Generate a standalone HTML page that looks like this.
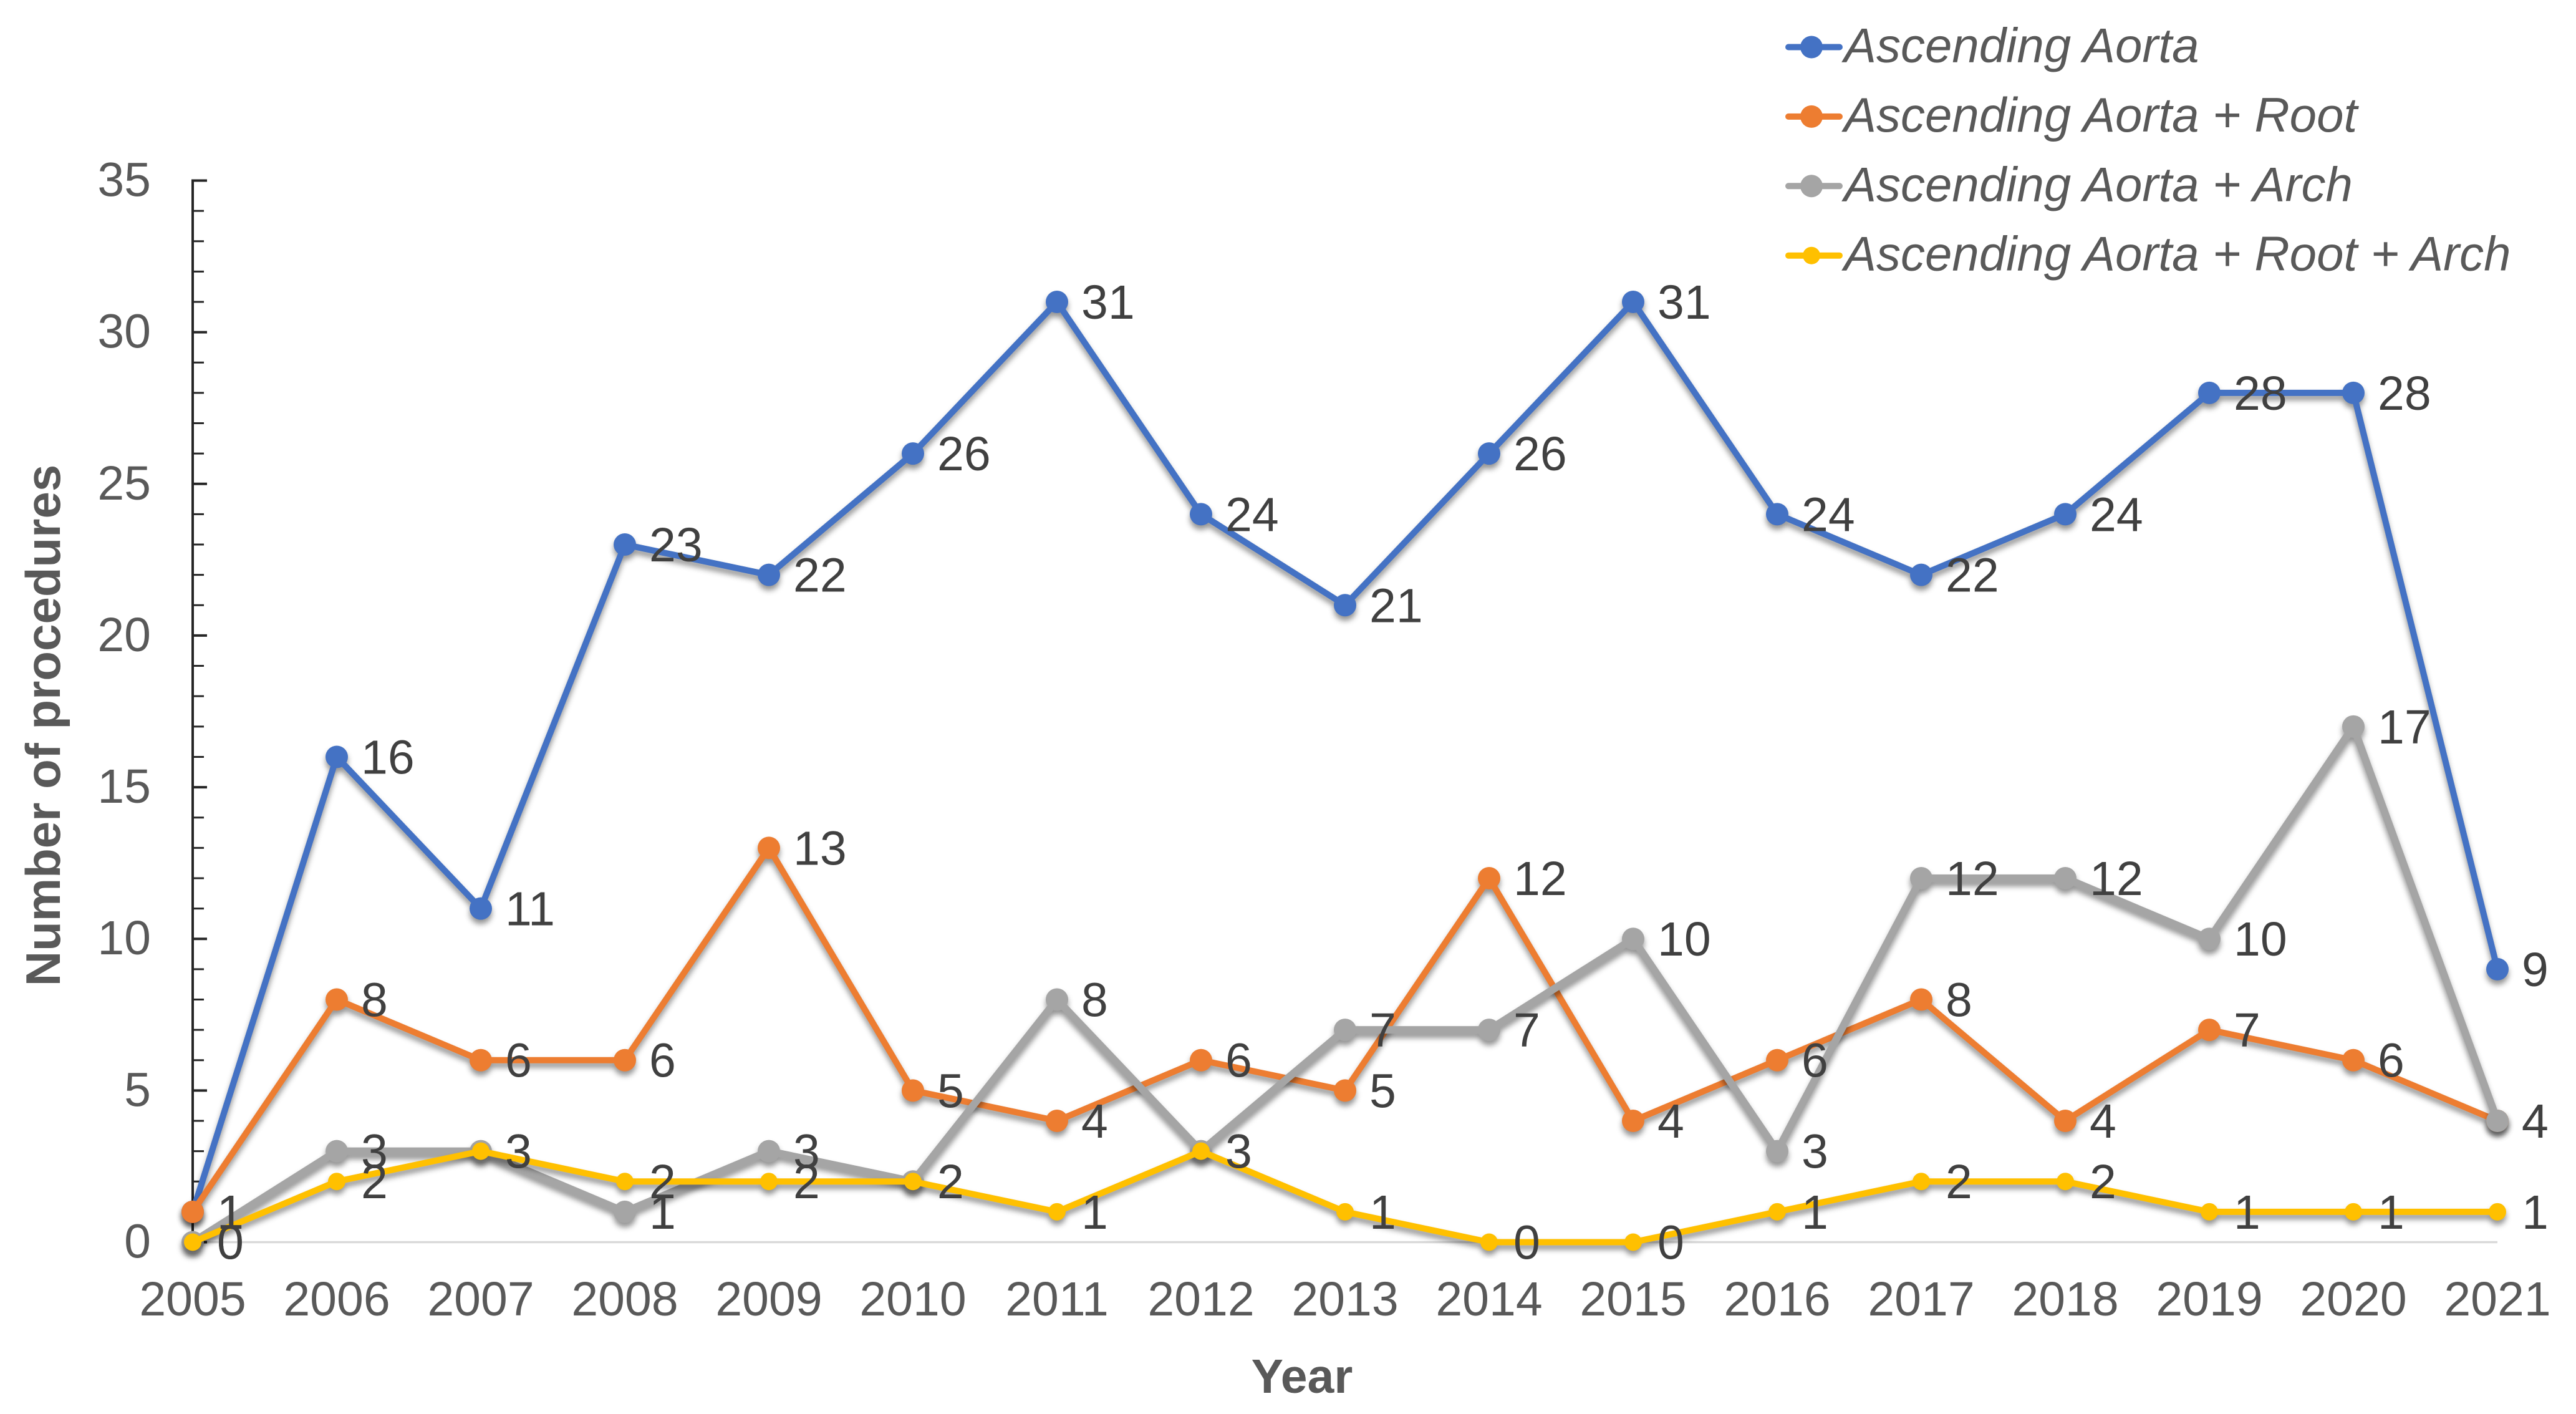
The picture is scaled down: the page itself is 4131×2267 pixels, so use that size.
<!DOCTYPE html>
<html lang="en">
<head>
<meta charset="utf-8">
<title>Number of procedures per year</title>
<style>
html,body{margin:0;padding:0;background:#fff;}
#chart{display:block;width:4131px;height:2267px;font-family:"Liberation Sans",Arial,sans-serif;}
</style>
</head>
<body>
<svg id="chart" xmlns="http://www.w3.org/2000/svg" width="4131" height="2267" viewBox="0 0 4131 2267">
  <defs>
    <filter id="shadow" x="-5%" y="-5%" width="110%" height="112%" color-interpolation-filters="sRGB">
      <feDropShadow dx="0" dy="7" stdDeviation="4.5" flood-color="#000" flood-opacity="0.42"/>
    </filter>
  </defs>
  <rect x="0" y="0" width="4131" height="2267" fill="#fff"/>
  <text transform="translate(96,1163) rotate(-90)" text-anchor="middle" font-size="78" font-weight="700" fill="#595959">Number of procedures</text>
  <text x="2088" y="2233" text-anchor="middle" font-size="77" font-weight="700" fill="#595959">Year</text>
</svg>
<script>
const years = ['2005','2006','2007','2008','2009','2010','2011','2012','2013','2014','2015','2016','2017','2018','2019','2020','2021'];
const ascendingAorta = [1,16,11,23,22,26,31,24,21,26,31,24,22,24,28,28,9];
const ascendingAortaRoot = [1,8,6,6,13,5,4,6,5,12,4,6,8,4,7,6,4];
const ascendingAortaArch = [0,3,3,1,3,2,8,3,7,7,10,3,12,12,10,17,4];
const ascendingAortaRootArch = [0,2,3,2,2,2,1,3,1,0,0,1,2,2,1,1,1];
const yTickLabels = [0,5,10,15,20,25,30,35];
const yMinorTicks = [0,1,2,3,4,5,6,7,8,9,10,11,12,13,14,15,16,17,18,19,20,21,22,23,24,25,26,27,28,29,30,31,32,33,34,35];
const seriesNames = ['Ascending Aorta','Ascending Aorta + Root','Ascending Aorta + Arch','Ascending Aorta + Root + Arch'];
const seriesValues = [ascendingAorta, ascendingAortaRoot, ascendingAortaArch, ascendingAortaRootArch];
const seriesColors = ['#4472c4','#ed7d31','#a5a5a5','#ffc000'];
const seriesWidths = [10,10,12,10];
const seriesRadii = [18,18,18,14];

const svg = document.getElementById('chart');
const NS = 'http://www.w3.org/2000/svg';
const X0 = 309, X1 = 4005, Y0 = 1991.5, Y1 = 289.5, YMAX = 35;
function xScale(i){ return X0 + i * (X1 - X0) / (years.length - 1); }
function yScale(v){ return Y0 - v * (Y0 - Y1) / YMAX; }
function make(tag, attrs, parent){
  const el = document.createElementNS(NS, tag);
  for (const k in attrs) el.setAttribute(k, attrs[k]);
  (parent || svg).appendChild(el);
  return el;
}

/* x axis baseline */
const xAxis = make('line', {x1:X0, x2:X1, y1:Y0, y2:Y0, stroke:'#d9d9d9', 'stroke-width':3.5});



/* y axis */
const yAxis = make('line', {x1:X0, x2:X0, y1:Y1-2, y2:Y0, stroke:'#262626', 'stroke-width':4});



yMinorTicks.forEach(function(v){
  const major = yTickLabels.indexOf(v) !== -1;
  const tick = make('line', {x1:X0, x2:X0 + (major ? 23 : 18), y1:yScale(v), y2:yScale(v), stroke:'#262626', 'stroke-width':major ? 4 : 3});
  
  
});

yTickLabels.forEach(function(v){
  const t = make('text', {x:242, y:yScale(v) + 25, 'text-anchor':'end', 'font-size':77, fill:'#595959'});
  t.textContent = String(v);
  
  
});

years.forEach(function(label, i){
  const t = make('text', {x:xScale(i), y:2109, 'text-anchor':'middle', 'font-size':77, fill:'#595959'});
  t.textContent = label;
  
  
});

/* series lines + markers */
seriesValues.forEach(function(values, s){
  const g = make('g', {filter:'url(#shadow)'});
  
  
  const pts = values.map(function(v, i){ return xScale(i) + ',' + yScale(v); }).join(' ');
  const line = make('polyline', {points:pts, fill:'none', stroke:seriesColors[s], 'stroke-width':seriesWidths[s], 'stroke-linejoin':'round', 'stroke-linecap':'round'}, g);
  
  
  values.forEach(function(v, i){
    const c = make('circle', {cx:xScale(i), cy:yScale(v), r:seriesRadii[s], fill:seriesColors[s]}, g);
    
    
  });
});

/* data labels */
seriesValues.forEach(function(values){
  values.forEach(function(v, i){
    const t = make('text', {x:xScale(i) + 39, y:yScale(v) + 27, 'font-size':77, fill:'#404040'});
    t.textContent = String(v);
    
    
  });
});

/* legend */
seriesNames.forEach(function(name, s){
  const cy = 75.5 + s * 111.4;
  const g = make('g', {});
  
  
  const l = make('line', {x1:2868, x2:2950, y1:cy, y2:cy, stroke:seriesColors[s], 'stroke-width':10, 'stroke-linecap':'round'}, g);
  
  
  const m = make('circle', {cx:2905, cy:cy, r:seriesRadii[s], fill:seriesColors[s]}, g);
  
  
  const t = make('text', {x:2957, y:cy + 24, 'font-size':78, 'font-style':'italic', fill:'#595959'}, g);
  t.textContent = name;
  
  
});
</script>
</body>
</html>
